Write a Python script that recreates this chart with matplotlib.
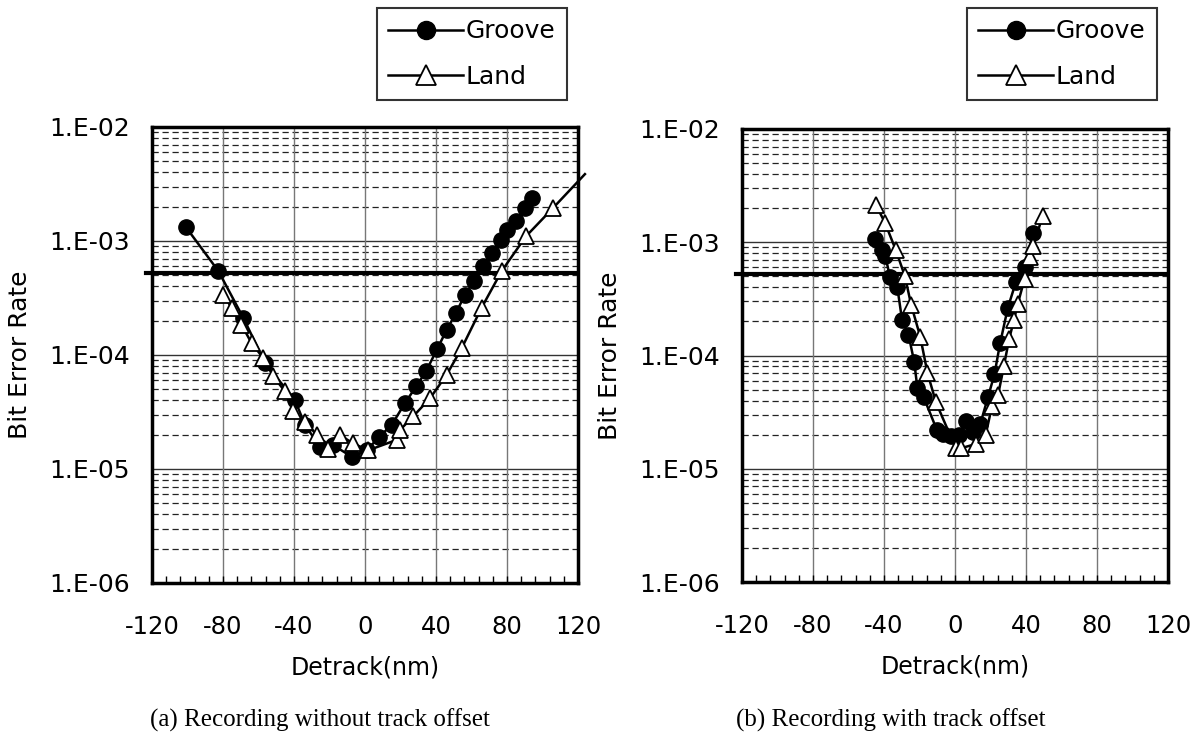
import matplotlib
matplotlib.use("Agg")
import matplotlib.pyplot as plt
from matplotlib.ticker import MultipleLocator, FixedLocator
from matplotlib.lines import Line2D

plt.rcParams['font.family'] = ['DejaVu Sans']
plt.rcParams['axes.unicode_minus'] = False

# ---------------- data ----------------
a_groove_x = [-101, -82.6, -68.5, -56.3, -39.4, -33.8, -25.4, -17.9, -7.5, 1, 8.1, 15, 22.5,
              28.8, 34.4, 40.8, 46.1, 51.3, 56.3, 61.4, 66.7, 71.4, 76.4, 79.8, 85, 90.1, 93.9]
a_groove_y = [1.33e-3, 5.45e-4, 2.11e-4, 8.5e-5, 4.0e-5, 2.43e-5, 1.57e-5, 1.62e-5, 1.28e-5,
              1.46e-5, 1.92e-5, 2.43e-5, 3.78e-5, 5.3e-5, 7.2e-5, 1.14e-4, 1.67e-4, 2.34e-4,
              3.39e-4, 4.45e-4, 6.0e-4, 7.9e-4, 1.03e-3, 1.26e-3, 1.5e-3, 1.96e-3, 2.4e-3]

a_land_x = [-79.8, -75.1, -69.6, -63.9, -57.3, -51.7, -45.1, -40.4, -33.8, -27.2, -20.6, -14.1,
            -6.9, 1.9, 17.8, 19.7, 27.2, 36.6, 46, 54.5, 65.7, 77, 90.7, 106.1, 123.9]
a_land_y = [3.39e-4, 2.59e-4, 1.85e-4, 1.27e-4, 9.4e-5, 6.5e-5, 4.8e-5, 3.2e-5, 2.6e-5, 1.99e-5,
            1.51e-5, 1.99e-5, 1.68e-5, 1.46e-5, 1.8e-5, 2.2e-5, 2.9e-5, 4.17e-5, 6.7e-5, 1.15e-4,
            2.6e-4, 5.45e-4, 1.1e-3, 1.96e-3, 3.86e-3]

b_groove_x = [-44.8, -41, -39.2, -36.6, -32.5, -29.8, -26.2, -23, -21.2, -17.7, -10.2, -6.5, -2,
              2.2, 6, 10.3, 14.3, 18.6, 22.2, 25.4, 29.8, 34.4, 39.2, 44]
b_groove_y = [1.07e-3, 8.6e-4, 7.5e-4, 4.9e-4, 4.0e-4, 2.05e-4, 1.53e-4, 8.8e-5, 5.2e-5, 4.3e-5,
              2.2e-5, 2.02e-5, 1.95e-5, 2.0e-5, 2.64e-5, 2.1e-5, 2.5e-5, 4.3e-5, 6.8e-5, 1.28e-4,
              2.65e-4, 4.5e-4, 6.0e-4, 1.2e-3]

b_land_x = [-44.6, -39.4, -33.3, -28.2, -24.7, -19.6, -15.5, -10.7, 0.4, 3.4, 11.6, 17.2, 20.8,
            24.3, 27.5, 30.5, 33.2, 35.4, 39.2, 42, 44.2, 49.4]
b_land_y = [2.15e-3, 1.48e-3, 8.5e-4, 5.0e-4, 2.8e-4, 1.47e-4, 7.0e-5, 3.85e-5, 1.52e-5, 1.52e-5,
            1.65e-5, 1.97e-5, 3.55e-5, 4.5e-5, 8.0e-5, 1.4e-4, 2.05e-4, 2.87e-4, 4.75e-4, 7.4e-4,
            9.3e-4, 1.72e-3]

threshold = 5.2e-4
x_ticks = [-120, -80, -40, 0, 40, 80, 120]
y_ticks = [1e-6, 1e-5, 1e-4, 1e-3, 1e-2]
y_ticklabels = ['1.E-06', '1.E-05', '1.E-04', '1.E-03', '1.E-02']
series_names = ['Groove', 'Land']
captions = ['(a) Recording without track offset', '(b) Recording with track offset']

# ---------------- figure ----------------
fig = plt.figure(figsize=(11.99, 7.38), dpi=100)
ax_a = fig.add_axes([152/1199, 1 - 583/738, 426/1199, 456/738])
ax_b = fig.add_axes([742/1199, 1 - 582/738, 426/1199, 453/738])

panels = [
    (ax_a, a_groove_x, a_groove_y, a_land_x, a_land_y, 320),
    (ax_b, b_groove_x, b_groove_y, b_land_x, b_land_y, 891),
]

for i, (ax, gx, gy, lx, ly, capx) in enumerate(panels):
    ax.set_yscale('log')
    ax.set_xlim(-120, 120)
    ax.set_ylim(1e-6, 1e-2)

    # grid
    minor_vals = [m * 10.0**e for e in range(-6, -2) for m in range(2, 10)]
    for v in minor_vals:
        ax.axhline(v, color='#222222', lw=0.9, ls=(0, (5, 3)), zorder=1)
    for v in y_ticks[1:-1]:
        ax.axhline(v, color='#333333', lw=1.0, zorder=1)
    for v in x_ticks[1:-1]:
        ax.axvline(v, color='#777777', lw=1.0, zorder=1)

    ax.axhline(threshold, xmin=-0.015, xmax=0.995, color='black', lw=3.0, zorder=2, clip_on=False)

    ax.plot(gx, gy, color='black', lw=1.8, marker='o', ms=11, mfc='black', mec='black',
            zorder=3)
    mk = list(range(len(lx) - 1)) if i == 0 else None
    ax.plot(lx, ly, color='black', lw=1.8, marker='^', ms=12, mfc='white', mec='black',
            mew=1.3, markevery=mk, zorder=4, clip_on=(i != 0))

    ax.set_xticks(x_ticks)
    ax.xaxis.set_minor_locator(MultipleLocator(8))
    ax.set_yticks(y_ticks)
    ax.set_yticklabels(y_ticklabels)
    ax.yaxis.set_minor_locator(FixedLocator([]))
    ax.tick_params(axis='x', which='major', direction='in', length=5, width=1, labelsize=17.5, pad=23)
    ax.tick_params(axis='x', which='minor', direction='in', length=5, width=1)
    ax.tick_params(axis='y', which='both', length=0, labelsize=18, pad=16)
    for s in ax.spines.values():
        s.set_linewidth(2.5)
        s.set_color('black')
        s.set_zorder(5)

    ax.set_xlabel('Detrack(nm)', fontsize=17, labelpad=12)
    ax.set_ylabel('Bit Error Rate', fontsize=18, labelpad=12)

    fig.text(capx / 1199, 1 - 720 / 738, captions[i], ha='center', va='center',
             fontsize=18, family='Liberation Serif')

    handles = [
        Line2D([], [], color='black', lw=1.8, marker='o', ms=13, mfc='black', mec='black'),
        Line2D([], [], color='black', lw=1.8, marker='^', ms=15, mfc='white', mec='black', mew=1.3),
    ]
    legx = 377 if i == 0 else 967
    leg = fig.legend(handles, series_names, loc='upper left',
                     bbox_to_anchor=(legx / 1199, 1 - 8 / 738), fontsize=18,
                     frameon=True, fancybox=False, handlelength=3.0, handletextpad=0.1,
                     borderpad=0.45, labelspacing=0.85, borderaxespad=0.0)
    leg.get_frame().set_edgecolor('black')
    leg.get_frame().set_linewidth(1.5)

fig.savefig('out.png', dpi=100)
